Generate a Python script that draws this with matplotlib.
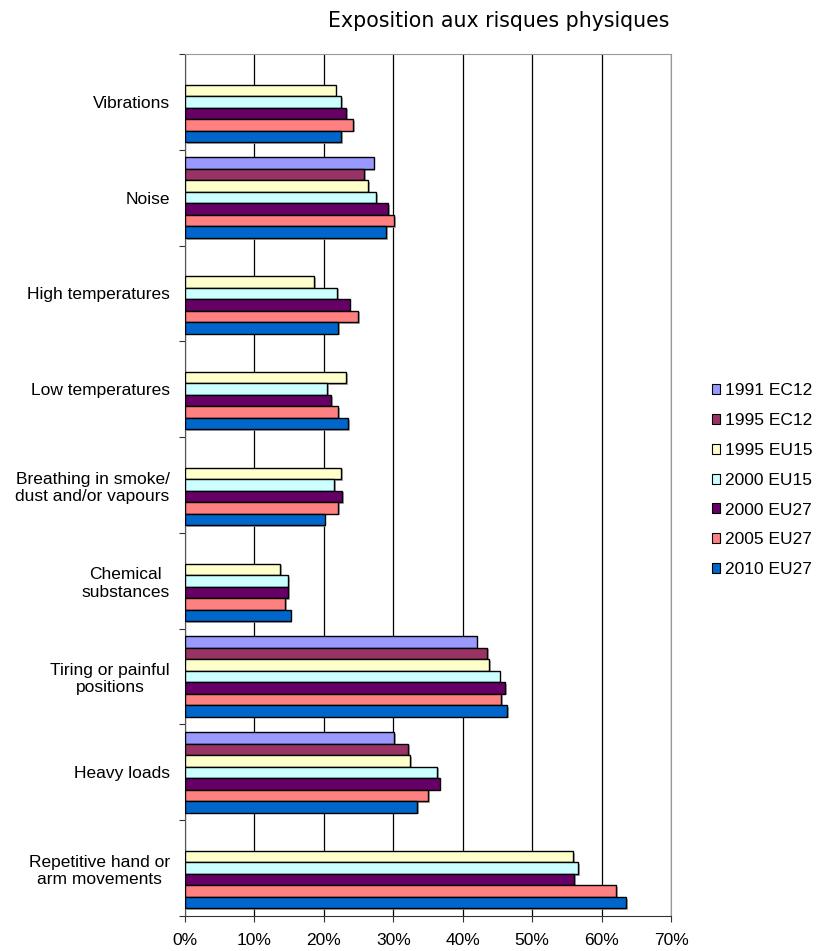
import numpy as np
import matplotlib.pyplot as plt
import matplotlib.patheffects as pe
from matplotlib.patches import Patch

# categories from top to bottom
categories = ['Vibrations', 'Noise', 'High temperatures', 'Low temperatures',
              'Breathing in smoke/\ndust and/or vapours', 'Chemical\nsubstances',
              'Tiring or painful\npositions', 'Heavy loads',
              'Repetitive hand or\narm movements']

series_names = ['1991 EC12', '1995 EC12', '1995 EU15', '2000 EU15',
                '2000 EU27', '2005 EU27', '2010 EU27']
colors = ['#9999FF', '#993366', '#FFFFCC', '#CCFFFF', '#660066', '#FF8080', '#0066CC']

nan = np.nan
v1991_ec12 = [nan, 27.2, nan, nan, nan, nan, 42.0, 30.1, nan]
v1995_ec12 = [nan, 25.8, nan, nan, nan, nan, 43.5, 32.1, nan]
v1995_eu15 = [21.7, 26.4, 18.6, 23.2, 22.5, 13.7, 43.8, 32.4, 55.9]
v2000_eu15 = [22.5, 27.5, 21.9, 20.5, 21.5, 14.9, 45.3, 36.3, 56.6]
v2000_eu27 = [23.2, 29.3, 23.7, 21.1, 22.6, 14.9, 46.1, 36.7, 56.1]
v2005_eu27 = [24.2, 30.1, 24.9, 22.1, 22.1, 14.4, 45.5, 35.0, 62.1]
v2010_eu27 = [22.5, 29.0, 22.1, 23.5, 20.1, 15.2, 46.4, 33.4, 63.5]
series = [v1991_ec12, v1995_ec12, v1995_eu15, v2000_eu15, v2000_eu27, v2005_eu27, v2010_eu27]

plt.rcParams['font.family'] = ['Liberation Sans', 'DejaVu Sans']

fig = plt.figure(figsize=(8.17, 9.51), dpi=100)
ax = fig.add_axes([0.2264, 0.0368, 0.5949, 0.9064])

n = len(categories)
centers = np.arange(n)[::-1] + 0.5   # top category highest
h = 0.12
shadow = [pe.SimplePatchShadow(offset=(1.2, -1.2), shadow_rgbFace='#999999', alpha=0.8), pe.Normal()]
for j, vals in enumerate(series):
    y = centers + (3 - j) * h
    bars = ax.barh(y, vals, height=h, color=colors[j], edgecolor='black', linewidth=1.0, zorder=3)
    for b in bars:
        b.set_path_effects(shadow)

ax.set_xlim(0, 70)
ax.set_ylim(0, n)
ax.set_xticks(np.arange(0, 71, 10))
ax.set_xticklabels([f'{t}%' for t in range(0, 71, 10)], fontsize=12.5)
ax.xaxis.grid(True, color='black', linewidth=0.9, zorder=0)
ax.tick_params(axis='x', direction='out', length=4, color='#333333', pad=8)

ax.set_yticks(np.arange(0, n + 1))
ax.set_yticklabels([])
ax.set_yticks(centers, minor=True)
ax.set_yticklabels(categories, minor=True, fontsize=12.5, multialignment='center')
ax.tick_params(axis='y', which='major', direction='out', length=4, color='#333333')
ax.tick_params(axis='y', which='minor', length=0, pad=11)

for s in ['top', 'right']:
    ax.spines[s].set_color('#999999')
ax.spines['left'].set_color('#555555')
ax.spines['bottom'].set_color('#333333')

handles = [Patch(facecolor=c, edgecolor='black', linewidth=0.8) for c in colors]
fig.legend(handles, series_names, loc='center left', bbox_to_anchor=(0.871, 0.495),
           frameon=False, fontsize=12.5, handlelength=0.5, handleheight=0.5,
           handletextpad=0.25, labelspacing=0.85, borderaxespad=0, borderpad=0)

fig.text(0.61, 0.978, 'Exposition aux risques physiques', ha='center', va='center',
         fontsize=14.8, family='DejaVu Sans')

fig.savefig('out.png', dpi=100)
